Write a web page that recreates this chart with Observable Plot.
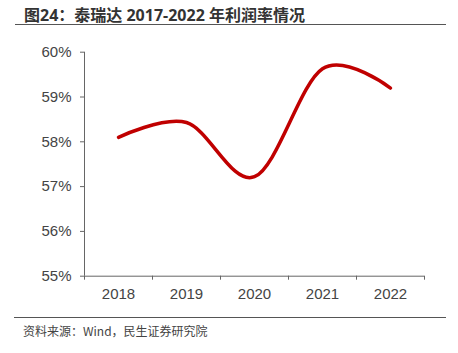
<!DOCTYPE html>
<html>
<head>
<meta charset="utf-8">
<script src="https://cdn.jsdelivr.net/npm/d3@7"></script>
<script src="https://cdn.jsdelivr.net/npm/@observablehq/plot@0.6"></script>
<style>
  html, body { margin: 0; padding: 0; background: #fff; }
  #wrap { position: relative; width: 458px; height: 353px; overflow: hidden; }
  #title { position: absolute; left: 15px; top: 0; width: 431px; height: 25px;
    border-bottom: 1.5px solid #555; font-family: "Noto Sans", "Noto Sans CJK SC", sans-serif;
    font-weight: bold; font-size: 16px; color: #333; line-height: 30px; padding-left: 9px; box-sizing: border-box; }
  #chart { position: absolute; left: 0; top: 30px; }
  #caption { position: absolute; left: 14px; top: 317px; width: 432px; border-top: 1.5px solid #555;
    font-family: "Noto Sans CJK SC", sans-serif; font-size: 12px; color: #444; padding-left: 9px; line-height: 26px; box-sizing: border-box; }
</style>
</head>
<body>
<div id="wrap">
  <div id="title">图24：泰瑞达 2017-2022 年利润率情况</div>
  <div id="chart"></div>
  <div id="caption">资料来源：Wind，民生证券研究院</div>
</div>
<script>
const years = [2018, 2019, 2020, 2021, 2022];
const margins = [0.581, 0.5843, 0.5722, 0.5963, 0.592];
const yTicks = [0.55, 0.56, 0.57, 0.58, 0.59, 0.60];

const data = years.map((y, i) => ({year: y, value: margins[i]}));
const bounds = [years[0] - 0.5, ...years.map(y => y + 0.5)];
const fmt = d3.format(".0%");

const chart = Plot.plot({
  width: 458,
  height: 280,
  marginLeft: 84,
  marginRight: 34,
  marginTop: 21.7,
  marginBottom: 34.3,
  style: {fontFamily: "'Liberation Sans', Arial, sans-serif", fontSize: "15px", color: "#444", background: "white"},
  x: {domain: [bounds[0], bounds[bounds.length - 1]], axis: null},
  y: {domain: [0.55, 0.60], axis: null},
  marks: [
    Plot.axisY({ticks: yTicks, tickFormat: fmt, tickSize: 4, tickPadding: 9, stroke: "#666", fill: "#444", fontSize: 15, label: null}),
    Plot.axisX({ticks: years, tickFormat: d => String(d), tickSize: 0, tickPadding: 12, fill: "#444", fontSize: 15, label: null}),
    Plot.axisX({ticks: bounds, tickFormat: () => "", tickSize: 4, stroke: "#666", label: null}),
    Plot.ruleX([bounds[0]], {y1: 0.55, y2: 0.60, stroke: "#666"}),
    Plot.ruleY([0.55], {stroke: "#666"}),
    Plot.line(data, {x: "year", y: "value", stroke: "#C00000", strokeWidth: 3.5, curve: "cardinal"})
  ]
});
document.getElementById("chart").appendChild(chart);
</script>
</body>
</html>
